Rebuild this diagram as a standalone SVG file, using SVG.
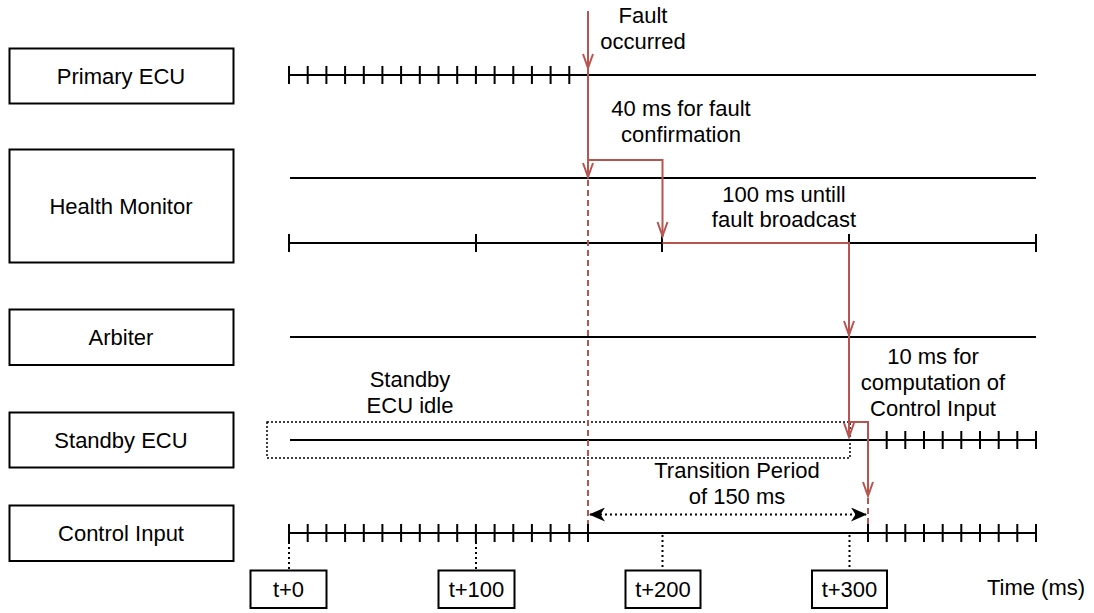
<svg xmlns="http://www.w3.org/2000/svg" width="1094" height="613" viewBox="0 0 1094 613">
<style>
.box{fill:#fff;stroke:#000;stroke-width:2}
.t{font-family:"Liberation Sans",Arial,Helvetica,sans-serif;font-size:22px;fill:#000;text-anchor:middle}
.ln{stroke:#000;stroke-width:2;fill:none}
.red{stroke:#b85450;stroke-width:2;fill:none}
.reddash{stroke:#b85450;stroke-width:2;fill:none;stroke-dasharray:6 4}
.dot{stroke:#000;stroke-width:2;fill:none;stroke-dasharray:2 3}
.dotthin{stroke:#000;stroke-width:1.5;fill:none;stroke-dasharray:2 2}
</style>
<defs>
<marker id="cls" viewBox="0 0 16 14" refX="15" refY="7" markerWidth="16" markerHeight="14" markerUnits="userSpaceOnUse" orient="auto-start-reverse">
<path d="M0,0 L16,7 L0,14 L4.5,7 Z" fill="#000"/>
</marker>
</defs>
<g id="node-primary"><rect class="box" x="9.5" y="48.5" width="224" height="55"/><text class="t" x="121" y="84">Primary ECU</text></g>
<g id="node-health"><rect class="box" x="9.5" y="149.5" width="224" height="113"/><text class="t" x="121" y="214">Health Monitor</text></g>
<g id="node-arbiter"><rect class="box" x="9.5" y="309.5" width="224" height="55.5"/><text class="t" x="121" y="345">Arbiter</text></g>
<g id="node-standby"><rect class="box" x="9.5" y="412.5" width="224" height="55"/><text class="t" x="121" y="448">Standby ECU</text></g>
<g id="node-control"><rect class="box" x="9.5" y="505.5" width="224" height="55.5"/><text class="t" x="121" y="541">Control Input</text></g>
<g id="timelines">
<path class="ln" d="M289,75H1036"/>
<path class="ln" d="M289,66V84M307.7,66V84M326.4,66V84M345.1,66V84M363.8,66V84M382.4,66V84M401.1,66V84M419.8,66V84M438.5,66V84M457.2,66V84M475.9,66V84M494.6,66V84M513.3,66V84M531.9,66V84M550.6,66V84M569.3,66V84M588,66V84"/>
<path class="ln" d="M290,178H1036"/>
<path class="ln" d="M289,243H1036M289,234V252M476,234V252M662,234V252M849,234V252M1036,234V252"/>
<path class="ln" d="M290,337H1036"/>
<rect class="dotthin" x="267" y="422" width="583" height="36"/>
<path class="ln" d="M290,440H1036"/>
<path class="ln" d="M868,431V449M886.7,431V449M905.3,431V449M924,431V449M942.7,431V449M961.3,431V449M980,431V449M998.7,431V449M1017.3,431V449M1036,431V449"/>
<path class="ln" d="M289,533H1036"/>
<path class="ln" d="M289,524V542M307.7,524V542M326.4,524V542M345.1,524V542M363.8,524V542M382.4,524V542M401.1,524V542M419.8,524V542M438.5,524V542M457.2,524V542M475.9,524V542M494.6,524V542M513.3,524V542M531.9,524V542M550.6,524V542M569.3,524V542M588,524V542"/>
<path class="ln" d="M868,524V542M886.7,524V542M905.3,524V542M924,524V542M942.7,524V542M961.3,524V542M980,524V542M998.7,524V542M1017.3,524V542M1036,524V542"/>
</g>
<g id="connectors">
<path class="red" d="M588,11V160"/>
<polyline class="red" points="583,54 588,68 593,54"/>
<path class="red" d="M588,160H662.5V237"/>
<polyline class="red" points="657.5,222 662.5,236 667.5,222"/>
<path class="red" d="M588,160V177"/>
<polyline class="red" points="583,163 588,177 593,163"/>
<path class="reddash" d="M588,180V524"/>
<path class="red" d="M662.5,243H849V422H868V496"/>
<path class="red" d="M849,422V437"/>
<polyline class="red" points="844,321 849,335 854,321"/>
<polyline class="red" points="844,423 849,437 854,423"/>
<polyline class="red" points="863,482 868,496 873,482"/>
<path class="reddash" d="M868,498V524"/>
<path class="dot" d="M590,514.5H866" marker-start="url(#cls)" marker-end="url(#cls)"/>
<path class="dot" d="M289,542V570M476,542V570M662.5,535V570M849.5,535V570"/>
</g>
<g id="labels">
<text class="t" x="643" y="23">Fault</text>
<text class="t" x="643" y="49">occurred</text>
<text class="t" x="681" y="116">40 ms for fault</text>
<text class="t" x="681" y="142">confirmation</text>
<text class="t" x="784" y="202">100 ms untill</text>
<text class="t" x="784" y="227">fault broadcast</text>
<text class="t" x="933" y="364">10 ms for</text>
<text class="t" x="933" y="390">computation of</text>
<text class="t" x="933" y="416">Control Input</text>
<text class="t" x="410" y="387">Standby</text>
<text class="t" x="410" y="413">ECU idle</text>
<text class="t" x="737" y="478">Transition Period</text>
<text class="t" x="737" y="504">of 150 ms</text>
<text class="t" x="1036" y="595">Time (ms)</text>
</g>
<g id="node-t0"><rect class="box" x="250.5" y="570.5" width="76" height="37.5"/><text class="t" x="288.5" y="597">t+0</text></g>
<g id="node-t100"><rect class="box" x="438.5" y="570.5" width="76" height="37.5"/><text class="t" x="476.5" y="597">t+100</text></g>
<g id="node-t200"><rect class="box" x="625.5" y="570.5" width="75" height="37.5"/><text class="t" x="663" y="597">t+200</text></g>
<g id="node-t300"><rect class="box" x="812" y="570.5" width="75" height="37.5"/><text class="t" x="849.5" y="597">t+300</text></g>
</svg>
